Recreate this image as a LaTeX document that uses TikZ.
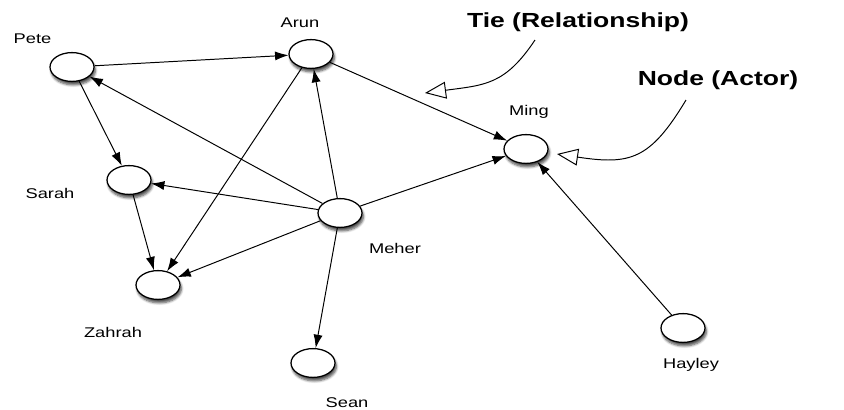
\documentclass[tikz,border=0pt]{standalone}
\usepackage{fontspec}
\usetikzlibrary{arrows.meta,shadows.blur,shapes.geometric}
\newfontfamily\lblfont[FakeStretch=1.3]{Liberation Sans}
\tikzset{
  actor/.style={draw=black,line width=0.9pt,fill=white,ellipse,minimum width=1.1cm,minimum height=0.72cm,
    blur shadow={shadow xshift=1pt,shadow yshift=-2.5pt,shadow blur steps=6,shadow opacity=70}},
  tie/.style={draw=black,line width=0.7pt,-{Latex[length=9.5pt,width=6.5pt]}},
  actorlbl/.style={anchor=base,inner sep=0pt,font=\lblfont\fontsize{10}{12}\selectfont},
  annotlbl/.style={anchor=base,inner sep=0pt,font=\lblfont\bfseries\fontsize{14.5}{16}\selectfont},
  pointer/.style={draw=black,line width=0.7pt,-{Triangle[open,length=15pt,width=12pt,fill=white]}}
}
\begin{document}
\begin{tikzpicture}[x=0.025cm,y=-0.025cm]
  \useasboundingbox (0,0) rectangle (844,409);
  % actors
  \foreach \n/\x/\y in {pete/72/67,arun/311/54,sarah/129/180,meher/340/213,
                        zahrah/158/285,sean/313/363,ming/526/149,hayley/683/328}{
    \node[actor] (\n) at (\x,\y) {};
  }
  % names
  \node[actorlbl] (petelbl) at (32.5,43) {Pete};
  \node[actorlbl] (arunlbl) at (300,27) {Arun};
  \node[actorlbl] (sarahlbl) at (50,198) {Sarah};
  \node[actorlbl] (meherlbl) at (395,253) {Meher};
  \node[actorlbl] (zahrahlbl) at (113,337) {Zahrah};
  \node[actorlbl] (seanlbl) at (347,407) {Sean};
  \node[actorlbl] (minglbl) at (529,115) {Ming};
  \node[actorlbl] (hayleylbl) at (691,368) {Hayley};
  % ties
  \foreach \a/\b in {pete/arun,pete/sarah,meher/pete,meher/arun,meher/sarah,
                     meher/zahrah,meher/ming,meher/sean,arun/ming,arun/zahrah,
                     sarah/zahrah,hayley/ming}{
    \draw[tie] (\a) -- (\b);
  }
  % annotations
  \node[annotlbl] (tietitle) at (578,27) {Tie (Relationship)};
  \node[annotlbl] (nodetitle) at (718,85) {Node (Actor)};
  \coordinate (tiefrom) at (535,40);
  \coordinate (tieto) at (425,93);
  \coordinate (nodefrom) at (686,100);
  \coordinate (nodeto) at (557,154);
  \draw[pointer] (tiefrom) .. controls (505,85) and (485,85) .. (tieto);
  \draw[pointer] (nodefrom) .. controls (650,160) and (630,165) .. (nodeto);
\end{tikzpicture}
\end{document}
